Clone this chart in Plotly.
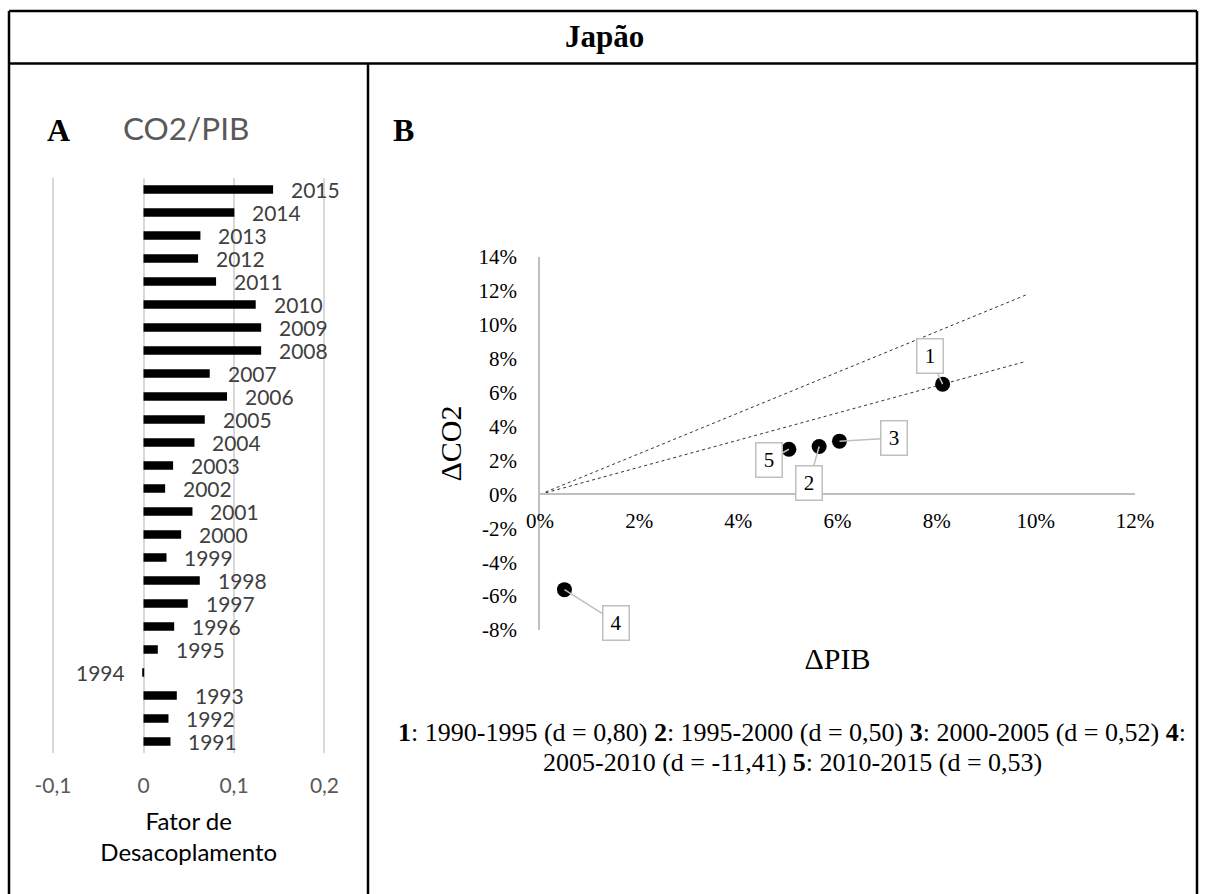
import plotly.graph_objects as go

# ---- Panel A: decoupling factor CO2/PIB by year ----
years = [str(y) for y in range(1991, 2016)]
fator = [0.0298, 0.0276, 0.0368, -0.0010, 0.0158, 0.0339, 0.0489, 0.0622,
         0.0254, 0.0416, 0.0541, 0.0239, 0.0327, 0.0563, 0.0677, 0.0923,
         0.0732, 0.1300, 0.1300, 0.1240, 0.0802, 0.0603, 0.0629, 0.1004,
         0.1432]
bar_ticks = [-0.1, 0.0, 0.1, 0.2]
bar_ticktext = ["-0,1", "0", "0,1", "0,2"]

# ---- Panel B: ΔPIB vs ΔCO2 per five-year period ----
periodos = ["1", "2", "3", "4", "5"]
delta_pib = [0.0812, 0.0563, 0.0604, 0.00493, 0.0502]
delta_co2 = [0.0650, 0.0282, 0.0314, -0.0562, 0.0266]
label_dx = [-13, -10, 55, 52, -20]
label_dy = [-28, 36, -3, 33, 11]
ref_slopes = [1.2, 0.8]
ref_x_end = 0.098
sc_xticks = [0.0, 0.02, 0.04, 0.06, 0.08, 0.10, 0.12]
sc_xticktext = ["0%", "2%", "4%", "6%", "8%", "10%", "12%"]
sc_yticks = [-0.08, -0.06, -0.04, -0.02, 0.0, 0.02, 0.04, 0.06, 0.08,
             0.10, 0.12, 0.14]
sc_yticktext = ["-8%", "-6%", "-4%", "-2%", "0%", "2%", "4%", "6%", "8%",
                "10%", "12%", "14%"]
nota_linhas = [
    "<b>1</b>: 1990-1995 (d = 0,80) <b>2</b>: 1995-2000 (d = 0,50) "
    "<b>3</b>: 2000-2005 (d = 0,52) <b>4</b>:",
    "2005-2010 (d = -11,41) <b>5</b>: 2010-2015 (d = 0,53)",
]

W, H = 1205, 894
SANS = "Lato"
SERIF = "Liberation Serif"
GRAY_LINE = "#bfbfbf"


def px(x):
    return x / W


def py(y):
    return 1 - y / H


fig = go.Figure()

# Panel A bars
fig.add_trace(go.Bar(
    x=fator, y=years, orientation="h", width=0.36,
    marker=dict(color="black", line=dict(width=0)),
    xaxis="x", yaxis="y", showlegend=False, hoverinfo="x+y",
))

# Panel B reference lines through the origin
for s in ref_slopes:
    fig.add_trace(go.Scatter(
        x=[0, ref_x_end], y=[0, s * ref_x_end], mode="lines",
        line=dict(color="#333333", width=1, dash="dot"),
        xaxis="x2", yaxis="y2", showlegend=False, hoverinfo="skip",
    ))

# Panel B points
fig.add_trace(go.Scatter(
    x=delta_pib, y=delta_co2, mode="markers",
    marker=dict(color="black", size=15),
    xaxis="x2", yaxis="y2", showlegend=False,
))

annotations = []
# Year labels beside each bar (category axis positions by index)
for i, (yr, v) in enumerate(zip(years, fator)):
    annotations.append(dict(
        x=v, y=i, xref="x", yref="y", text=yr, showarrow=False,
        xanchor="left" if v >= 0 else "right", yanchor="middle",
        xshift=16 if v >= 0 else -16,
        font=dict(family=SANS, size=21, color="#404040"),
    ))

# Callout boxes for the periods
for lab, xv, yv, dx, dy in zip(periodos, delta_pib, delta_co2, label_dx, label_dy):
    annotations.append(dict(
        x=xv, y=yv, xref="x2", yref="y2", text=lab, showarrow=True,
        ax=dx, ay=dy, axref="pixel", ayref="pixel",
        arrowhead=0, arrowwidth=1.5, arrowcolor=GRAY_LINE, standoff=0,
        bgcolor="white", bordercolor=GRAY_LINE, borderwidth=1.5, borderpad=4,
        width=17, height=25,
        font=dict(family=SERIF, size=21, color="black"),
    ))


def texto(x, y, s, family, size, color="black"):
    return dict(x=px(x), y=py(y), xref="paper", yref="paper", text=s,
                showarrow=False, xanchor="center", yanchor="middle",
                font=dict(family=family, size=size, color=color))


# Headings and footnote
annotations += [
    texto(604, 37, "<b>Japão</b>", SERIF, 31),
    texto(58, 130, "<b>A</b>", SERIF, 32),
    texto(186, 128, "CO2/PIB", SANS, 31.5, "#595959"),
    texto(403, 130, "<b>B</b>", SERIF, 32),
    texto(792, 732, nota_linhas[0], SERIF, 26),
    texto(792, 762, nota_linhas[1], SERIF, 26),
]

# Frame lines
BK = dict(color="black", width=2.5)
shapes = [
    dict(type="line", xref="paper", yref="paper", x0=px(9), x1=px(1197),
         y0=py(11), y1=py(11), line=BK),
    dict(type="line", xref="paper", yref="paper", x0=px(9), x1=px(1197),
         y0=py(63.5), y1=py(63.5), line=BK),
    dict(type="line", xref="paper", yref="paper", x0=px(9), x1=px(9),
         y0=py(11), y1=-0.02, line=BK),
    dict(type="line", xref="paper", yref="paper", x0=px(1197), x1=px(1197),
         y0=py(11), y1=-0.02, line=BK),
    dict(type="line", xref="paper", yref="paper", x0=px(368), x1=px(368),
         y0=py(63.5), y1=-0.02, line=BK),
]

# Domains of the two panels (panel A range padded so edge gridlines show)
xa_range = [-0.102, 0.202]
xa_dom = [px(51.2), px(326.3)]
ya_dom = [py(753), py(178)]
xb_dom = [px(540), px(1135)]
yb_dom = [py(630), py(257)]
yb_range = [-0.08, 0.14]
# x axis of panel B crosses the y axis at ΔCO2 = 0
xb_pos = yb_dom[0] + (0 - yb_range[0]) / (yb_range[1] - yb_range[0]) * (yb_dom[1] - yb_dom[0])

fig.update_layout(
    template="none",
    width=W, height=H, margin=dict(l=0, r=0, t=0, b=0, pad=0),
    autosize=False,
    paper_bgcolor="white", plot_bgcolor="rgba(0,0,0,0)",
    bargap=0.64,
    annotations=annotations, shapes=shapes,
    xaxis=dict(
        domain=xa_dom, range=xa_range, anchor="y", automargin=False,
        tickvals=bar_ticks, ticktext=bar_ticktext,
        showgrid=True, gridcolor="#d9d9d9", gridwidth=1.5,
        zeroline=False, showline=False,
        ticks="outside", ticklen=14, tickcolor="rgba(0,0,0,0)",
        tickfont=dict(family=SANS, size=21, color="#595959"),
        title=dict(text="Fator de<br>Desacoplamento", standoff=16,
                   font=dict(family=SANS, size=24, color="#000000")),
    ),
    yaxis=dict(
        domain=ya_dom, range=[-0.5, 24.5], anchor="x", automargin=False,
        type="category", showticklabels=False, showgrid=False,
        zeroline=False, showline=False,
    ),
    xaxis2=dict(
        domain=xb_dom, range=[0, 0.12], anchor="free", position=xb_pos,
        automargin=False,
        tickvals=sc_xticks, ticktext=sc_xticktext,
        showgrid=False, zeroline=False,
        showline=True, linecolor=GRAY_LINE, linewidth=1.5,
        ticks="outside", ticklen=8, tickcolor="rgba(0,0,0,0)",
        tickfont=dict(family=SERIF, size=21, color="black"),
        title=dict(text="ΔPIB", standoff=115,
                   font=dict(family=SERIF, size=30, color="black")),
    ),
    yaxis2=dict(
        domain=yb_dom, range=yb_range, anchor="x2", automargin=False,
        tickvals=sc_yticks, ticktext=sc_yticktext,
        showgrid=False, zeroline=False,
        showline=True, linecolor=GRAY_LINE, linewidth=1.5,
        ticks="outside", ticklen=17, tickcolor="rgba(0,0,0,0)",
        tickfont=dict(family=SERIF, size=21, color="black"),
        title=dict(text="ΔCO2", standoff=8,
                   font=dict(family=SERIF, size=30, color="black")),
    ),
)

fig.write_html("out.html")
